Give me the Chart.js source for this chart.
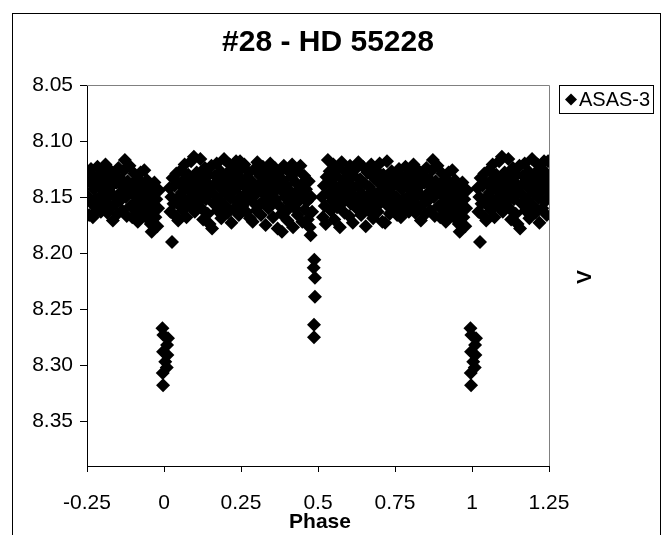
<!DOCTYPE html>
<html>
<head>
<meta charset="utf-8">
<script src="https://cdn.jsdelivr.net/npm/chart.js@4"></script>
<style>
  body { margin: 0; background: #fff; }
  #wrap { width: 666px; height: 535px; }
</style>
</head>
<body>
<div id="wrap"><canvas id="lc" width="666" height="535"></canvas></div>
<script>
const chartTitle = "#28 - HD 55228";
const seriesName = "ASAS-3";
const xTicks = [-0.25, 0, 0.25, 0.5, 0.75, 1, 1.25];
const yTicks = [8.05, 8.10, 8.15, 8.20, 8.25, 8.30, 8.35];

// ASAS-3 V magnitudes, phase folded into [0, 1)
const asas3 = [
  // primary eclipse
  [0.995,8.267],[0.998,8.273],[0.013,8.276],[0.010,8.282],[0.997,8.288],[0.011,8.291],[0.004,8.297],[0.009,8.302],[0.996,8.307],[0.997,8.318],
  [0.018,8.142],[0.021,8.163],[0.024,8.150],[0.026,8.190],[0.028,8.133],[0.031,8.156],[0.034,8.140],[0.037,8.167],[0.040,8.129],[0.043,8.151],
  [0.046,8.171],[0.049,8.138],[0.052,8.158],[0.055,8.126],[0.058,8.146],
  [0.061,8.162],[0.064,8.135],[0.067,8.121],[0.070,8.153],[0.073,8.168],[0.076,8.140],[0.079,8.130],[0.082,8.157],[0.085,8.145],[0.088,8.118],
  [0.091,8.150],[0.094,8.136],[0.097,8.114],[0.100,8.163],[0.103,8.142],[0.106,8.128],[0.109,8.155],[0.112,8.138],[0.115,8.147],[0.118,8.116],
  [0.121,8.160],[0.124,8.133],[0.127,8.170],[0.130,8.144],[0.133,8.124],[0.136,8.152],[0.139,8.137],[0.142,8.165],[0.145,8.130],[0.148,8.174],
  [0.151,8.146],[0.154,8.122],[0.156,8.178],[0.159,8.140],[0.162,8.156],[0.165,8.131],[0.168,8.149],[0.171,8.120],[0.174,8.162],[0.177,8.137],
  [0.180,8.153],[0.183,8.127],[0.186,8.169],[0.189,8.143],[0.192,8.134],[0.195,8.116],[0.198,8.158],[0.201,8.147],[0.204,8.129],[0.207,8.164],
  [0.210,8.139],[0.213,8.121],[0.216,8.151],[0.219,8.173],[0.222,8.135],[0.225,8.145],[0.228,8.160],[0.231,8.126],[0.234,8.118],[0.237,8.154],
  [0.240,8.141],[0.243,8.166],[0.246,8.132],[0.247,8.118],[0.249,8.150],
  [0.252,8.124],[0.255,8.158],[0.258,8.139],[0.261,8.121],[0.264,8.147],[0.267,8.163],[0.270,8.133],[0.273,8.152],[0.276,8.128],[0.279,8.169],
  [0.282,8.143],[0.285,8.136],[0.288,8.172],[0.291,8.155],[0.294,8.125],[0.297,8.148],[0.300,8.162],[0.303,8.119],[0.306,8.140],[0.309,8.157],
  [0.312,8.131],[0.315,8.166],[0.318,8.145],[0.321,8.123],[0.324,8.153],[0.327,8.137],[0.330,8.175],[0.333,8.149],[0.336,8.128],[0.339,8.160],
  [0.342,8.141],[0.345,8.120],[0.348,8.156],[0.351,8.134],[0.354,8.168],[0.357,8.146],[0.360,8.124],[0.363,8.152],[0.366,8.138],[0.369,8.178],
  [0.372,8.129],[0.375,8.158],[0.378,8.143],[0.381,8.165],[0.383,8.181],[0.386,8.135],[0.389,8.122],[0.392,8.150],[0.395,8.163],[0.398,8.140],
  [0.401,8.171],[0.404,8.127],[0.407,8.155],[0.410,8.145],[0.413,8.132],[0.416,8.121],[0.419,8.177],[0.422,8.149],[0.425,8.160],[0.428,8.137],
  [0.431,8.126],[0.434,8.166],[0.437,8.143],[0.440,8.153],[0.443,8.122],[0.446,8.139],[0.449,8.172],[0.452,8.147],[0.455,8.131],[0.458,8.161],
  [0.461,8.143],[0.464,8.154],[0.467,8.170],[0.470,8.136],[0.473,8.177],[0.476,8.184],[0.478,8.150],[0.481,8.163],
  // secondary eclipse
  [0.488,8.206],[0.486,8.213],[0.490,8.222],[0.490,8.239],[0.487,8.264],[0.487,8.275],
  [0.513,8.150],[0.516,8.168],[0.519,8.140],[0.522,8.158],[0.525,8.174],[0.528,8.132],[0.532,8.117],[0.535,8.147],[0.538,8.127],[0.541,8.162],
  [0.544,8.138],[0.547,8.153],[0.550,8.121],[0.553,8.170],[0.556,8.144],[0.559,8.131],[0.562,8.159],[0.565,8.148],[0.568,8.124],[0.571,8.177],
  [0.574,8.139],[0.577,8.119],[0.580,8.155],[0.583,8.135],[0.586,8.164],[0.589,8.146],[0.592,8.128],[0.595,8.151],[0.598,8.137],[0.601,8.167],
  [0.604,8.122],[0.607,8.156],[0.610,8.142],[0.613,8.173],[0.616,8.131],[0.619,8.149],[0.622,8.125],[0.625,8.160],[0.628,8.140],[0.631,8.119],
  [0.634,8.154],[0.637,8.134],[0.640,8.166],[0.643,8.147],[0.646,8.123],[0.649,8.158],[0.652,8.138],[0.655,8.176],[0.658,8.150],[0.661,8.128],
  [0.664,8.162],[0.667,8.141],[0.670,8.153],[0.673,8.121],[0.676,8.145],[0.679,8.169],[0.682,8.133],[0.685,8.157],[0.688,8.126],[0.691,8.148],
  [0.694,8.163],[0.697,8.137],[0.700,8.120],[0.703,8.155],[0.706,8.143],[0.709,8.172],[0.712,8.130],[0.715,8.151],[0.718,8.173],[0.721,8.139],
  [0.724,8.118],[0.727,8.158],[0.730,8.133],[0.733,8.165],[0.736,8.146],[0.739,8.127],[0.742,8.154],[0.745,8.140],[0.748,8.161],
  [0.751,8.131],[0.754,8.150],[0.757,8.166],[0.760,8.137],[0.763,8.125],[0.766,8.156],[0.769,8.168],[0.772,8.143],[0.775,8.132],[0.778,8.152],
  [0.781,8.162],[0.784,8.123],[0.786,8.140],[0.789,8.155],[0.792,8.135],[0.795,8.163],[0.798,8.128],[0.801,8.147],[0.804,8.158],[0.807,8.138],
  [0.810,8.121],[0.813,8.152],[0.816,8.164],[0.819,8.133],[0.822,8.145],[0.825,8.126],[0.828,8.159],[0.831,8.140],[0.834,8.171],[0.837,8.149],
  [0.840,8.130],[0.843,8.156],[0.846,8.137],[0.849,8.165],[0.852,8.124],[0.855,8.147],[0.858,8.153],[0.861,8.134],[0.864,8.162],[0.867,8.141],
  [0.870,8.126],[0.873,8.117],[0.876,8.150],[0.879,8.167],[0.882,8.136],[0.885,8.145],[0.888,8.122],[0.891,8.158],[0.894,8.139],[0.897,8.168],
  [0.900,8.148],[0.903,8.129],[0.906,8.155],[0.909,8.135],[0.912,8.162],[0.915,8.172],[0.918,8.142],[0.921,8.152],[0.924,8.128],[0.927,8.165],
  [0.930,8.138],[0.933,8.147],[0.936,8.126],[0.939,8.158],[0.942,8.168],[0.945,8.135],[0.948,8.152],[0.951,8.142],[0.954,8.163],[0.957,8.174],
  [0.960,8.181],[0.963,8.146],[0.966,8.158],[0.969,8.137],[0.972,8.168],[0.975,8.152],[0.978,8.176],[0.981,8.160],[0.984,8.144]
];

// repeat the ends of the cycle so the plot runs from -0.25 to 1.25
const points = [];
asas3.forEach(([p, v]) => {
  points.push({ x: p, y: v });
  if (p >= 0.75) points.push({ x: p - 1, y: v });
  if (p <= 0.25) points.push({ x: p + 1, y: v });
});

const FONT = "'Liberation Sans', Arial, sans-serif";
Chart.defaults.font.family = FONT;
Chart.defaults.color = "#000";

const extras = {
  id: "extras",
  beforeDatasetsDraw(chart) {
    const { ctx, chartArea: a } = chart;
    ctx.save();
    ctx.strokeStyle = "#808080";
    ctx.lineWidth = 1;
    ctx.beginPath();
    ctx.moveTo(a.left, Math.round(a.top) + 0.5);
    ctx.lineTo(Math.round(a.right) + 0.5, Math.round(a.top) + 0.5);
    ctx.lineTo(Math.round(a.right) + 0.5, a.bottom);
    ctx.stroke();
    ctx.restore();
  },
  afterDraw(chart) {
    const { ctx } = chart;
    ctx.save();
    // chart border
    ctx.strokeStyle = "#000";
    ctx.lineWidth = 1;
    ctx.strokeRect(12.5, 13.5, 648, 540);
    // title
    ctx.fillStyle = "#000";
    ctx.textAlign = "center";
    ctx.textBaseline = "middle";
    ctx.font = "bold 30px " + FONT;
    ctx.fillText(chartTitle, 328, 43);
    // axis titles
    ctx.font = "bold 21px " + FONT;
    ctx.fillText("Phase", 320, 522);
    ctx.save();
    ctx.translate(585, 277);
    ctx.rotate(-Math.PI / 2);
    ctx.fillText("V", 0, 0);
    ctx.restore();
    // legend
    ctx.strokeRect(559.5, 85.5, 94, 28);
    ctx.beginPath();
    ctx.moveTo(565, 99.5); ctx.lineTo(571, 93.5); ctx.lineTo(577, 99.5); ctx.lineTo(571, 105.5);
    ctx.closePath();
    ctx.fill();
    ctx.textAlign = "left";
    ctx.font = "20px " + FONT;
    ctx.fillText(seriesName, 579, 100);
    ctx.restore();
  }
};

new Chart(document.getElementById("lc"), {
  type: "scatter",
  data: {
    datasets: [{
      label: seriesName,
      data: points,
      pointStyle: "rectRot",
      pointRadius: 7,
      pointHoverRadius: 7,
      borderWidth: 0,
      backgroundColor: "#000",
      borderColor: "#000"
    }]
  },
  options: {
    responsive: false,
    animation: false,
    layout: { padding: { left: 0, right: 117, top: 85, bottom: 0 } },
    plugins: { legend: { display: false }, tooltip: { enabled: false } },
    scales: {
      x: {
        type: "linear",
        min: -0.25,
        max: 1.25,
        afterBuildTicks: (s) => { s.ticks = xTicks.map((v) => ({ value: v })); },
        afterFit: (s) => { s.height = 69; s.paddingLeft = 0; s.paddingRight = 0; },
        ticks: { font: { size: 21 }, padding: 19, callback: (v) => String(v) },
        grid: { drawOnChartArea: false, tickLength: 6, color: "#000" },
        border: { color: "#000", width: 1 }
      },
      y: {
        type: "linear",
        reverse: true,
        min: 8.05,
        max: 8.39,
        afterBuildTicks: (s) => { s.ticks = yTicks.map((v) => ({ value: v })); },
        afterFit: (s) => { s.width = 87; s.paddingTop = 0; s.paddingBottom = 0; },
        ticks: { font: { size: 21 }, padding: 7, callback: (v) => v.toFixed(2) },
        grid: { drawOnChartArea: false, tickLength: 7, color: "#000" },
        border: { color: "#000", width: 1 }
      }
    }
  },
  plugins: [extras]
});
</script>
</body>
</html>
